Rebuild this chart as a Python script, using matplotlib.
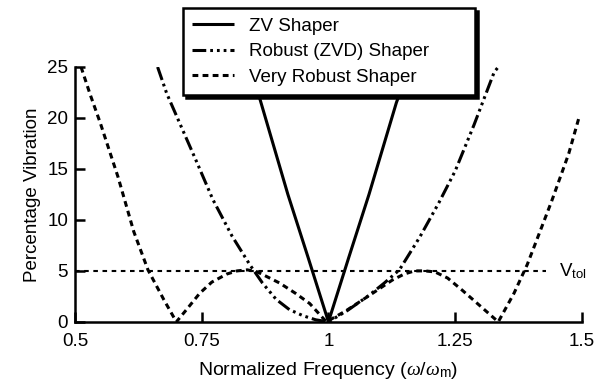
import matplotlib
matplotlib.use("Agg")
import matplotlib.pyplot as plt

plt.rcParams['font.family'] = ['Liberation Sans', 'DejaVu Sans']
# chu toan hoc: omega nghieng kieu serif, chi so dung kieu sans
plt.rcParams['mathtext.fontset'] = 'custom'
plt.rcParams['mathtext.rm'] = 'Liberation Sans'
plt.rcParams['mathtext.it'] = 'Liberation Serif:italic'

# Du lieu doc tu hinh: (tan so chuan hoa, % dao dong)
zv_freq = [0.84, 0.864, 0.92, 0.96, 1.0, 1.04, 1.08, 1.134, 1.16]
zv_vib = [25.0, 22.0, 12.5, 6.3, 0.0, 6.3, 12.5, 21.5, 25.0]

zvd_freq = [0.663, 0.681, 0.71, 0.74, 0.772, 0.81, 0.845, 0.87, 0.897, 0.923, 0.95, 0.975, 1.0,
            1.037, 1.08, 1.11, 1.14, 1.18, 1.218, 1.25, 1.287, 1.327, 1.335]
zvd_vib = [25.0, 22.4, 19.1, 15.7, 12.0, 8.4, 5.6, 3.8, 2.2, 1.2, 0.6, 0.2, 0.0,
           1.1, 2.6, 3.8, 5.1, 8.3, 11.7, 14.8, 19.3, 24.5, 25.0]

ei_freq = [0.512, 0.53, 0.55, 0.585, 0.616, 0.644, 0.675, 0.70, 0.72, 0.746, 0.77, 0.80,
           0.82, 0.84, 0.86, 0.88, 0.904, 0.935, 0.963, 0.996, 1.035, 1.087, 1.126,
           1.15, 1.17, 1.19, 1.21, 1.235, 1.264, 1.303, 1.335, 1.366, 1.392, 1.406,
           1.44, 1.474, 1.494]
ei_vib = [25.0, 22.3, 19.5, 14.2, 8.85, 5.1, 2.2, 0.0, 1.2, 2.8, 3.9, 4.7,
          5.0, 5.1, 4.9, 4.4, 3.8, 2.8, 1.8, 0.0, 1.1, 2.8, 4.1,
          4.7, 5.0, 5.0, 4.9, 4.3, 3.1, 1.4, 0.0, 2.8, 5.6, 7.4,
          11.8, 16.5, 20.0]

v_tol = 5
x_ticks = [0.5, 0.75, 1, 1.25, 1.5]
x_tick_labels = ['0.5', '0.75', '1', '1.25', '1.5']
y_ticks = [0, 5, 10, 15, 20, 25]

fig = plt.figure(figsize=(5.95, 3.85), dpi=100)
ax = fig.add_axes([0.126, 0.164, 0.852, 0.662])

ax.plot(zv_freq, zv_vib, color='black', lw=2.2, solid_capstyle='butt', label='ZV Shaper')
ax.plot(zvd_freq, zvd_vib, color='black', lw=2.2,
        dashes=(4.5, 1.3, 0.9, 1.3, 0.9, 1.3, 0.9, 1.3), label='Robust (ZVD) Shaper')
ax.plot(ei_freq, ei_vib, color='black', lw=2.2, dashes=(1.9, 1.4), label='Very Robust Shaper')

# Duong V_tol
ax.plot([0.5, 1.43], [v_tol, v_tol], color='black', lw=1.5, dashes=(2.2, 2.2))
ax.text(1.455, v_tol, r'V$_{\mathrm{tol}}$', fontsize=13.5, ha='left', va='center')

ax.set_xlim(0.5, 1.5)
ax.set_ylim(0, 25)
ax.set_xticks(x_ticks)
ax.set_xticklabels(x_tick_labels)
ax.set_yticks(y_ticks)
ax.tick_params(direction='in', length=7, width=1.8, labelsize=13.5)
ax.tick_params(axis='x', pad=8)
ax.tick_params(axis='y', pad=5)
ax.spines['top'].set_visible(False)
ax.spines['right'].set_visible(False)
ax.spines['left'].set_linewidth(1.8)
ax.spines['bottom'].set_linewidth(1.8)

ax.set_xlabel(r'Normalized Frequency ($\omega$/$\omega_{\mathrm{m}}$)', fontsize=14, labelpad=7)
ax.set_ylabel('Percentage Vibration', fontsize=13.5, labelpad=4)

# Chu thich: khung rong nhu hinh goc, co bong den
leg = ax.legend(loc='upper left', bbox_to_anchor=(0.3076, 0.979, 0.4908, 0.0),
                bbox_transform=fig.transFigure, mode='expand', borderaxespad=0,
                fontsize=13.5, handlelength=2.2, handletextpad=0.8, labelspacing=0.45,
                borderpad=0.5, fancybox=False, framealpha=1, edgecolor='black',
                shadow={'color': 'black', 'alpha': 1})
leg.get_frame().set_linewidth(1.8)

fig.savefig('out.png', dpi=100)
